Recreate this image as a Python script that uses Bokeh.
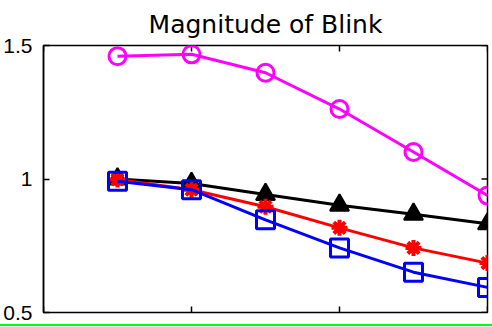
import math

from bokeh.plotting import figure
from bokeh.layouts import column
from bokeh.models import Div, FixedTicker, Range1d
from bokeh.embed import file_html
from bokeh.resources import INLINE

# Sample positions and the normalised blink magnitude of each series
steps = [0.5, 1.0, 1.5, 2.0, 2.5, 3.0]
magenta_vals = [1.460, 1.467, 1.398, 1.262, 1.101, 0.938]
black_vals = [1.000, 0.983, 0.942, 0.902, 0.868, 0.832]
red_vals = [0.998, 0.960, 0.896, 0.817, 0.742, 0.685]
blue_vals = [0.992, 0.960, 0.847, 0.742, 0.651, 0.594]

x_ticks = [0, 1, 2, 3]
y_ticks = [0.5, 1.0, 1.5]
y_tick_labels = {0.5: "0.5", 1.0: "1", 1.5: "1.5"}

X0, X1 = 0, 3
Y0, Y1 = 0.5, 1.5

p = figure(
    width=492, height=324,
    x_range=Range1d(X0, X1), y_range=Range1d(Y0, Y1),
    x_axis_location=None,
    output_backend="svg", toolbar_location=None,
    min_border_left=0, min_border_right=5,
    min_border_top=0, min_border_bottom=12,
)
p.margin = (0, 0, 0, 0)
p.background_fill_color = "white"
p.border_fill_color = "white"
p.outline_line_color = "black"
p.outline_line_width = 1.5
p.xgrid.visible = False
p.ygrid.visible = False

p.title.text = "Magnitude of Blink"
p.title.align = "center"
p.title.text_font = "DejaVu Sans"
p.title.text_font_size = "25px"
p.title.text_font_style = "normal"
p.title.text_color = "black"
p.title.standoff = 14

# Left axis with its labels; ticks point into the box
ya = p.yaxis[0]
ya.ticker = FixedTicker(ticks=y_ticks)
ya.major_label_overrides = y_tick_labels
ya.axis_line_color = "black"
ya.axis_line_width = 1.5
ya.major_tick_line_color = "black"
ya.major_tick_line_width = 1.5
ya.major_tick_in = 6
ya.major_tick_out = 0
ya.minor_tick_line_color = None
ya.major_label_text_font = "Liberation Sans"
ya.major_label_text_font_size = "21px"
ya.major_label_text_color = "black"
ya.major_label_standoff = 11

# Inward box ticks on the bottom, top and right edges (half of each dash
# falls outside the frame and is clipped away)
TICK = 12
for edge in (Y0, Y1):
    p.scatter(x_ticks, [edge] * len(x_ticks), marker="dash", size=TICK,
              angle=math.pi / 2, line_color="black", line_width=1.5)
p.scatter([X1] * len(y_ticks), y_ticks, marker="dash", size=TICK,
          line_color="black", line_width=1.5)

LW = 3
p.line(steps, magenta_vals, line_color="#ff00ff", line_width=LW)
p.scatter(steps, magenta_vals, marker="circle", size=17, fill_color=None,
          line_color="#ff00ff", line_width=LW)

p.line(steps, black_vals, line_color="black", line_width=LW)
p.scatter(steps, black_vals, marker="triangle", size=19, fill_color="black",
          line_color="black", line_width=2)

p.line(steps, red_vals, line_color="#ff0000", line_width=LW)
p.scatter(steps, red_vals, marker="asterisk", size=16,
          line_color="#ff0000", line_width=LW + 1)

p.line(steps, blue_vals, line_color="#0000ff", line_width=LW)
p.scatter(steps, blue_vals, marker="square", size=18, fill_color=None,
          line_color="#0000ff", line_width=LW)

# Thin green rule along the foot of the panel
rule = Div(text="", width=492, height=2, margin=(0, 0, 0, 0),
           styles={"background-color": "#00ff00", "height": "2px",
                   "width": "492px"})

page = column(p, rule, spacing=0, margin=(0, 0, 0, 0))
open("out.html", "w").write(file_html(page, INLINE))
